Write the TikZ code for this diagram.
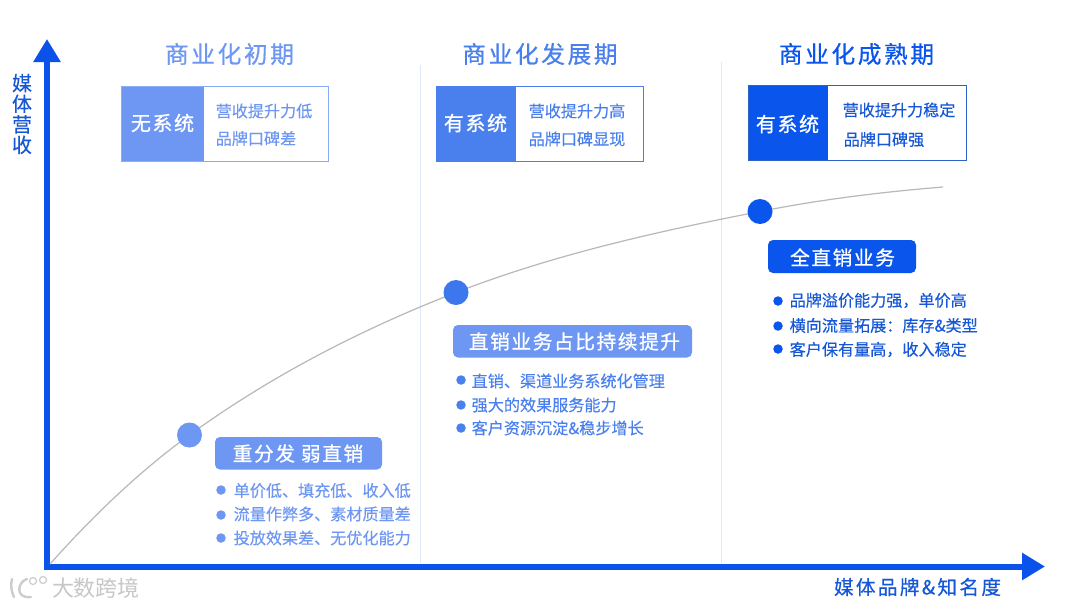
\documentclass[tikz,border=0pt]{standalone}
\usepackage{fontspec}
\usepackage{xcolor}
\usepackage{tikz}
\usetikzlibrary{arrows.meta}
\newfontfamily\cjk[FakeBold=0.25]{Noto Sans CJK SC}
\newfontfamily\cjkplain{Noto Sans CJK SC}
\newfontfamily\cjkhead[LetterSpace=11,FakeBold=0.6]{Noto Sans CJK SC}
\newfontfamily\cjkwide[LetterSpace=8,FakeBold=0.9]{Noto Sans CJK SC}
\newfontfamily\cjkaxis[LetterSpace=12,FakeBold=0.5]{Noto Sans CJK SC}
\definecolor{deepblue}{HTML}{0A55EC}
\definecolor{midblue}{HTML}{4A80EE}
\definecolor{softblue}{HTML}{6D97F3}
\definecolor{axisblue}{HTML}{0A52EA}
\definecolor{labelblue}{HTML}{1557D6}
\definecolor{splitblue}{HTML}{DDE8F6}
\tikzset{
  axisline/.style={axisblue, line width=6pt, -{Triangle[length=23pt, width=26pt]}},
  curveline/.style={draw=black!28, line width=1.2pt},
  splitline/.style={splitblue, line width=1pt},
  headtext/.style={inner sep=0pt, font=\fontsize{23.7}{25}\selectfont\cjkhead},
  sidetext/.style={inner sep=0pt, text=white, font=\fontsize{20}{22}\selectfont\cjkwide},
  linetext/.style={inner sep=0pt, anchor=west, font=\fontsize{16.1}{18}\selectfont\cjk},
  pilltext/.style={inner sep=0pt, text=white, font=\fontsize{19.7}{22}\selectfont\cjkwide},
  dotmark/.style={circle, inner sep=0pt, minimum size=25pt},
  bulletmark/.style={circle, inner sep=0pt, minimum size=9.5pt},
}
\begin{document}
\begin{tikzpicture}[x=1pt, y=-1pt]
  \useasboundingbox (0,0) rectangle (1080,608);
  \fill[white] (0,0) rectangle (1080,608);
  % column dividers
  \coordinate (splitAtop) at (420,65);
  \coordinate (splitAend) at (420,563);
  \coordinate (splitBtop) at (721,62);
  \coordinate (splitBend) at (721,563);
  \draw[splitline] (splitAtop) -- (splitAend);
  \draw[splitline] (splitBtop) -- (splitBend);
  % axes
  \coordinate (origin) at (47,566.5);
  \coordinate (ytip) at (47,39);
  \coordinate (xtip) at (1045,566.5);
  \coordinate (corner) at (44,566.5);
  \draw[axisline] (origin) -- (ytip);
  \draw[axisline] (corner) -- (xtip);
  \node[inner sep=0pt, align=center, text=labelblue, font=\fontsize{20}{20.6}\selectfont\cjk] (ylabel) at (22,114) {媒\\体\\营\\收};
  \node[inner sep=0pt, text=labelblue, font=\fontsize{19.6}{21}\selectfont\cjkaxis] (xlabel) at (917.5,587) {媒体品牌\&知名度};
  % growth curve
  \coordinate (curvestart) at (50,564);
  \coordinate (curveend) at (943,187);
  \node[dotmark] (dotA) at (189.5,435) {};
  \node[dotmark] (dotB) at (456,292.5) {};
  \node[dotmark] (dotC) at (760,211.5) {};
  \draw[curveline] (curvestart) .. controls +(42,-47) and +(-51,37) .. (dotA.center)
    .. controls +(81,-59) and +(-93,36) .. (dotB.center)
    .. controls +(98,-38) and +(-103,20) .. (dotC.center)
    .. controls +(60,-12) and +(-61,5) .. (curveend);
  \fill[softblue] (dotA) circle (12.5);
  \fill[midblue!80!deepblue] (dotB) circle (12.5);
  \fill[deepblue] (dotC) circle (12.5);
  % stage one
  \node[headtext, text=softblue] (headA) at (229.5,54) {商业化初期};
  \fill[softblue] (121,86) rectangle (204,161);
  \draw[softblue!80, line width=1pt] (121,86) rectangle (328,161);
  \node[sidetext] (sideA) at (162.5,123) {无系统};
  \node[linetext, text=softblue] (boxAa) at (215.5,111) {营收提升力低};
  \node[linetext, text=softblue] (boxAb) at (215.5,138.5) {品牌口碑差};
  \fill[softblue, rounded corners=5pt] (215,437) rectangle (382,469.5);
  \node[pilltext] (pillA) at (298,453.5) {重分发 弱直销};
  \node[bulletmark, fill=softblue] (bulletAa) at (221,490) {};
  \node[bulletmark, fill=softblue] (bulletAb) at (221,515) {};
  \node[bulletmark, fill=softblue] (bulletAc) at (221,538) {};
  \node[linetext, text=softblue] (itemAa) at (233.5,490.5) {单价低、填充低、收入低};
  \node[linetext, text=softblue] (itemAb) at (233.5,514) {流量作弊多、素材质量差};
  \node[linetext, text=softblue] (itemAc) at (233.5,538) {投放效果差、无优化能力};
  % stage two
  \node[headtext, text=midblue] (headB) at (540,54) {商业化发展期};
  \fill[midblue] (436,86) rectangle (516,161);
  \draw[midblue, line width=1pt] (436,86) rectangle (643,161);
  \node[sidetext] (sideB) at (475.5,123) {有系统};
  \node[linetext, text=midblue] (boxBa) at (528.5,111) {营收提升力高};
  \node[linetext, text=midblue] (boxBb) at (528.5,139) {品牌口碑显现};
  \fill[softblue, rounded corners=5pt] (453,325) rectangle (692,357.5);
  \node[pilltext] (pillB) at (574.5,341.5) {直销业务占比持续提升};
  \node[bulletmark, fill=midblue] (bulletBa) at (461,380) {};
  \node[bulletmark, fill=midblue] (bulletBb) at (461,405) {};
  \node[bulletmark, fill=midblue] (bulletBc) at (461,428) {};
  \node[linetext, text=midblue] (itemBa) at (471.5,381) {直销、渠道业务系统化管理};
  \node[linetext, text=midblue] (itemBb) at (471.5,405) {强大的效果服务能力};
  \node[linetext, text=midblue] (itemBc) at (471.5,428) {客户资源沉淀\&稳步增长};
  % stage three
  \node[headtext, text=deepblue] (headC) at (856.5,54) {商业化成熟期};
  \fill[deepblue] (748,85) rectangle (828,160);
  \draw[deepblue!70!gray, line width=1pt] (748,85) rectangle (966,160);
  \node[sidetext] (sideC) at (787.5,124) {有系统};
  \node[linetext, text=labelblue] (boxCa) at (842.5,110) {营收提升力稳定};
  \node[linetext, text=labelblue] (boxCb) at (843.5,139.5) {品牌口碑强};
  \fill[deepblue, rounded corners=5pt] (768,240) rectangle (916,273);
  \node[pilltext] (pillC) at (842.5,257.5) {全直销业务};
  \node[bulletmark, fill=deepblue] (bulletCa) at (778,301) {};
  \node[bulletmark, fill=deepblue] (bulletCb) at (778,326) {};
  \node[bulletmark, fill=deepblue] (bulletCc) at (778,349) {};
  \node[linetext, text=labelblue] (itemCa) at (789.5,300.5) {品牌溢价能力强，单价高};
  \node[linetext, text=labelblue] (itemCb) at (789.5,325.5) {横向流量拓展：库存\&类型};
  \node[linetext, text=labelblue] (itemCc) at (789.5,349.5) {客户保有量高，收入稳定};
  % watermark
  \draw[black!20, line width=2.4pt, line cap=round] (12,579) .. controls (10,586) and (12,593) .. (14,597);
  \draw[black!20, line width=2.4pt, line cap=round] (27,579) .. controls (17,582) and (15,599) .. (31,597);
  \draw[black!20, line width=1.2pt] (33,581) circle (3.5);
  \draw[black!20, line width=1.2pt] (43,580) circle (3.5);
  \node[inner sep=0pt, text=black!22, font=\fontsize{22}{24}\selectfont\cjkplain] (wmark) at (96,588) {大数跨境};
\end{tikzpicture}
\end{document}
